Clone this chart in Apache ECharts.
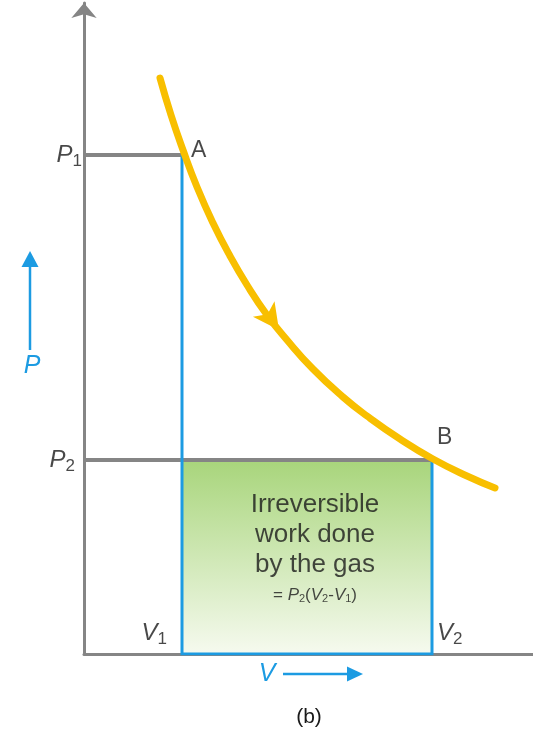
<!DOCTYPE html>
<html><head><meta charset="utf-8">
<script src="https://cdn.jsdelivr.net/npm/echarts@6/dist/echarts.min.js"></script>
<style>html,body{margin:0;padding:0;background:#fff}#c{width:533px;height:730px}</style>
</head><body><div id="c"></div>
<script>
// ---- data (arbitrary units) ----
const V1 = 0.98, V2 = 3.48;
const P1 = 4.99, P2 = 1.94;
const curveV = [0.76,0.87,0.99,1.13,1.29,1.46,1.63,1.83,2.03,2.29,2.59,2.83,3.16,3.49,3.83,4.11];
const curveP = [5.76,5.39,5.04,4.67,4.31,3.98,3.69,3.39,3.14,2.85,2.57,2.38,2.15,1.95,1.78,1.66];
const arrowPoint = [1.95, 3.24];
const axisMaxV = 4.49, axisMaxP = 6.51;
const boxText = ['Irreversible', 'work done', 'by the gas'];

const FONT = '"Liberation Sans", Arial, sans-serif';
const DARK = '#1a1a1a', GREY = '#858585', BLUE = '#1c9be2', YELLOW = '#f8bf00';

const chart = echarts.init(document.getElementById('c'));
const subRich = {
  i: {fontStyle: 'italic', fontSize: 24, color: DARK, fontFamily: FONT},
  s: {fontSize: 17, padding: [13, 0, 0, 0], color: DARK, fontFamily: FONT}
};
function subLabel(letter, idx, position, distance, offset) {
  return {show: true, formatter: '{i|' + letter + '}{s|' + idx + '}', rich: subRich,
          position: position, distance: distance, offset: offset};
}
const formulaRich = {
  e: {fontSize: 17, color: DARK, fontFamily: FONT},
  i: {fontSize: 17, fontStyle: 'italic', color: DARK, fontFamily: FONT},
  s: {fontSize: 11, padding: [7, 0, 0, 0], color: DARK, fontFamily: FONT}
};

const option = {
  animation: false,
  grid: {left: 84, right: 0, top: 3, bottom: 76},
  xAxis: {type: 'value', min: 0, max: axisMaxV,
    axisLine: {show: true, lineStyle: {color: GREY, width: 3}},
    axisTick: {show: false}, axisLabel: {show: false}, splitLine: {show: false}},
  yAxis: {type: 'value', min: 0, max: axisMaxP,
    axisLine: {show: true, symbol: ['none', 'arrow'], symbolSize: [19, 15], lineStyle: {color: GREY, width: 3}},
    axisTick: {show: false}, axisLabel: {show: false}, splitLine: {show: false}},
  series: [
    {type: 'line', z: 1, symbol: 'none', data: [[V1, P2], [V2, P2]],
      lineStyle: {width: 0},
      areaStyle: {origin: 'start', opacity: 1, color: new echarts.graphic.LinearGradient(0, 0, 0, 1, [
        {offset: 0, color: '#a8d57b'}, {offset: 1, color: '#f6faef'}])}},
    {type: 'line', z: 2, symbol: 'none', data: [[0, P1], [V1, P1]], lineStyle: {color: GREY, width: 4, cap: 'butt'}},
    {type: 'line', z: 2, symbol: 'none', data: [[0, P2], [V2, P2]], lineStyle: {color: GREY, width: 4, cap: 'butt'}},
    {type: 'line', z: 3, symbol: 'none', data: [[V1, P1], [V1, 0], [V2, 0], [V2, P2]],
      lineStyle: {color: BLUE, width: 3, join: 'miter'}},
    {type: 'line', z: 4, symbol: 'none', smooth: true, data: curveV.map((v, i) => [v, curveP[i]]),
      lineStyle: {color: YELLOW, width: 7, cap: 'round'}},
    {type: 'scatter', z: 5, data: [arrowPoint], symbol: 'arrow', symbolSize: [20, 26], symbolRotate: -144,
      itemStyle: {color: YELLOW, opacity: 1}},
    {type: 'scatter', z: 6, symbolSize: 0, silent: true,
      label: {color: DARK, fontFamily: FONT, fontSize: 23},
      data: [
        {value: [V1, P1], label: {show: true, formatter: 'A', position: 'right', distance: 9, offset: [0, -4]}},
        {value: [V2, P2], label: {show: true, formatter: 'B', position: 'right', distance: 5, offset: [0, -22]}},
        {value: [0, P1], label: subLabel('P', 1, 'left', 2, [0, 0])},
        {value: [0, P2], label: subLabel('P', 2, 'left', 9, [0, 0])},
        {value: [V1, 0], label: subLabel('V', 1, 'left', 15, [0, -21])},
        {value: [V2, 0], label: subLabel('V', 2, 'right', 5, [0, -21])},
        {value: [(V1 + V2) / 2, P2 / 2], label: {show: true, position: 'inside', offset: [8, -7],
          align: 'center', fontSize: 26, lineHeight: 30, color: DARK, fontFamily: FONT,
          formatter: boxText.join('\n') + '\n{e|= }{i|P}{s|2}{e|(}{i|V}{s|2}{e|-}{i|V}{s|1}{e|)}',
          rich: formulaRich}}
      ]}
  ],
  graphic: [
    {type: 'text', x: 32, y: 366, style: {text: 'P', fill: BLUE, font: 'italic 25px ' + FONT,
      textAlign: 'center', textVerticalAlign: 'middle', align: 'center', verticalAlign: 'middle'}},
    {type: 'line', shape: {x1: 30, y1: 350, x2: 30, y2: 265}, style: {stroke: BLUE, lineWidth: 2.5}},
    {type: 'polygon', shape: {points: [[30, 251], [21.5, 267], [38.5, 267]]}, style: {fill: BLUE}},
    {type: 'text', x: 267, y: 674, style: {text: 'V', fill: BLUE, font: 'italic 25px ' + FONT,
      textAlign: 'center', textVerticalAlign: 'middle', align: 'center', verticalAlign: 'middle'}},
    {type: 'line', shape: {x1: 283, y1: 674, x2: 350, y2: 674}, style: {stroke: BLUE, lineWidth: 2.5}},
    {type: 'polygon', shape: {points: [[363, 674], [347, 666.5], [347, 681.5]]}, style: {fill: BLUE}},
    {type: 'text', x: 309, y: 717, style: {text: '(b)', fill: DARK, font: '21px ' + FONT,
      textAlign: 'center', textVerticalAlign: 'middle', align: 'center', verticalAlign: 'middle'}}
  ]
};
chart.setOption(option);
</script></body></html>
